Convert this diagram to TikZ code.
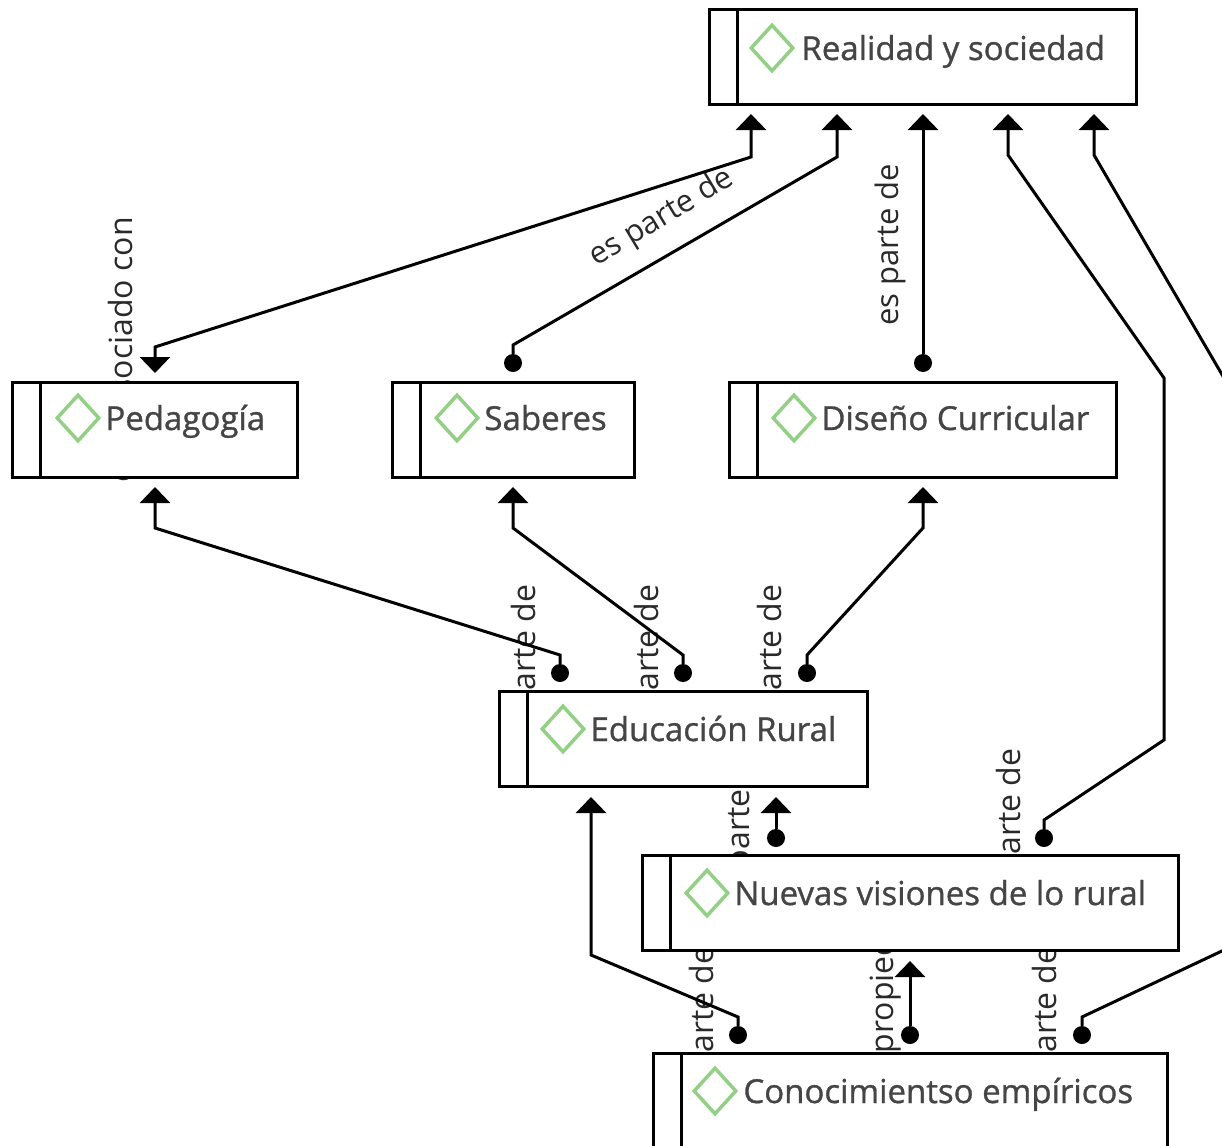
\documentclass[tikz,border=0pt]{standalone}
\usepackage{fontspec}
\setmainfont{Open Sans}
\newfontfamily\conceptfont[FakeBold=1]{Open Sans}
\usetikzlibrary{shapes.geometric, arrows.meta, calc, positioning, backgrounds}
\definecolor{icongreen}{HTML}{93CF85}
\definecolor{conceptgray}{HTML}{454545}
\definecolor{labelgray}{HTML}{2A2A2A}
\tikzstyle{concept} = [rectangle, minimum height=95pt, draw=black, line width=3pt, fill=white, inner sep=0pt, path picture={\draw [line width=3pt] ([xshift=28pt]path picture bounding box.north west) -- ([xshift=28pt]path picture bounding box.south west);}]
\tikzstyle{icon} = [diamond, minimum width=43pt, minimum height=47pt, inner sep=0pt, draw=icongreen, line width=3.5pt, fill=white]
\tikzstyle{conceptlabel} = [text=conceptgray, font=\conceptfont\fontsize{33}{37}\selectfont, inner sep=0pt, text height=31pt, text depth=7pt]
\tikzstyle{linklabel} = [text=labelgray, font=\fontsize{32}{36}\selectfont, inner sep=0pt, rotate=90]
\tikzstyle{dotend} = [circle, fill=black, minimum size=18pt, inner sep=0pt]
\tikzstyle{arrow} = [line width=3pt, ->, >={Triangle[width=30pt,length=16pt]}]
\begin{document}
\begin{tikzpicture}[x=1pt, y=-1pt]
                \useasboundingbox (0,0) rectangle (1222,1145);
                \clip (0,0) rectangle (1222,1145);
                % boxes
                \node (realidad) [concept, minimum width=427pt] at (923,57.5) {};
                \node (pedagogia) [concept, minimum width=285pt] at (155,429.5) {};
                \node (saberes) [concept, minimum width=242pt] at (513.5,429.5) {};
                \node (diseno) [concept, minimum width=387pt] at (923,429.5) {};
                \node (educacion) [concept, minimum width=368pt] at (683.5,738.5) {};
                \node (nuevas) [concept, minimum width=536pt] at (910.5,903) {};
                \node (conocimientos) [concept, minimum width=514pt] at (910.5,1100.5) {};
                % icons and names
                \node (realidadicon) [icon] at (772,48) {};
                \node (realidadtxt) [conceptlabel, right=6pt of realidadicon] {Realidad y sociedad};
                \node (pedagogiaicon) [icon] at (78,418) {};
                \node (pedagogiatxt) [conceptlabel, right=4pt of pedagogiaicon] {Pedagogía};
                \node (saberesicon) [icon] at (457,418) {};
                \node (saberestxt) [conceptlabel, right=4pt of saberesicon] {Saberes};
                \node (disenoicon) [icon] at (794,418) {};
                \node (disenotxt) [conceptlabel, right=4pt of disenoicon] {Diseño Curricular};
                \node (educacionicon) [icon] at (563,729) {};
                \node (educaciontxt) [conceptlabel, right=4pt of educacionicon] {Educación Rural};
                \node (nuevasicon) [icon] at (707,893) {};
                \node (nuevastxt) [conceptlabel, right=4pt of nuevasicon] {Nuevas visiones de lo rural};
                \node (conocimientosicon) [icon] at (715,1091) {};
                \node (conocimientostxt) [conceptlabel, right=5pt of conocimientosicon] {Conocimientso empíricos};
                % arrow tips
                \coordinate (reaA) at (751,114);
                \coordinate (reaB) at (837,114);
                \coordinate (reaC) at (923,114);
                \coordinate (reaD) at (1008,114);
                \coordinate (reaE) at (1094,114);
                \coordinate (pedIn) at (155,373);
                \coordinate (pedB) at (155,487);
                \coordinate (sabB) at (513,487);
                \coordinate (disB) at (923,487);
                \coordinate (eduA) at (591,797);
                \coordinate (eduB) at (776,797);
                \coordinate (nueB) at (910,961);
                % dots
                \node (dotSab) [dotend] at (513,363) {};
                \node (dotDis) [dotend] at (923,363) {};
                \node (dotEduA) [dotend] at (560,673) {};
                \node (dotEduB) [dotend] at (683,673) {};
                \node (dotEduC) [dotend] at (807,673) {};
                \node (dotNueA) [dotend] at (776,838) {};
                \node (dotNueB) [dotend] at (1044,838) {};
                \node (dotConA) [dotend] at (738,1035) {};
                \node (dotConB) [dotend] at (910,1035) {};
                \node (dotConC) [dotend] at (1082,1035) {};
                % connectors
                \draw [arrow, <->] (pedIn) -- ($(pedIn)+(0,-26)$) -- ($(reaA)+(0,43)$) -- (reaA);
                \draw [arrow] (dotSab) -- ($(dotSab)+(0,-18)$) -- ($(reaB)+(0,43)$) -- (reaB);
                \draw [arrow] (dotDis) -- (reaC);
                \draw [arrow] (dotNueB) -- ($(dotNueB)+(0,-18)$) -- (1164,740) -- (1164,378) -- ($(reaD)+(0,41)$) -- (reaD);
                \draw [arrow] (dotConC) -- ($(dotConC)+(0,-18)$) -- (1224,950) -- (1224,378) -- ($(reaE)+(0,41)$) -- (reaE);
                \draw [arrow] (dotEduA) -- ($(dotEduA)+(0,-18)$) -- ($(pedB)+(0,41)$) -- (pedB);
                \draw [arrow] (dotEduB) -- ($(dotEduB)+(0,-18)$) -- ($(sabB)+(0,41)$) -- (sabB);
                \draw [arrow] (dotEduC) -- ($(dotEduC)+(0,-18)$) -- ($(disB)+(0,41)$) -- (disB);
                \draw [arrow] (dotNueA) -- (eduB);
                \draw [arrow] (dotConA) -- ($(dotConA)+(0,-18)$) -- ($(eduA)+(0,158)$) -- (eduA);
                \draw [arrow] (dotConB) -- (nueB);
                % labels stay behind the boxes
                \begin{scope}[on background layer]
                \node (lblPed) [linklabel] at (120,350) {está asociado con};
                \node (lblSab) [linklabel, rotate=-59, font=\fontsize{31}{35}\selectfont] at (662,218) {es parte de};
                \node (lblDis) [linklabel, font=\fontsize{31}{35}\selectfont] at (890,245) {es parte de};
                \node (lblEduA) [linklabel] at (527,668) {es parte de};
                \node (lblEduB) [linklabel] at (650,668) {es parte de};
                \node (lblEduC) [linklabel] at (773,668) {es parte de};
                \node (lblNueA) [linklabel] at (741,827) {es parte de};
                \node (lblNueB) [linklabel] at (1012,832) {es parte de};
                \node (lblConA) [linklabel] at (705,1030) {es parte de};
                \node (lblConB) [linklabel] at (885,974) {es propiedad de};
                \node (lblConC) [linklabel] at (1048,1030) {es parte de};
                \end{scope}
            \end{tikzpicture}
\end{document}
